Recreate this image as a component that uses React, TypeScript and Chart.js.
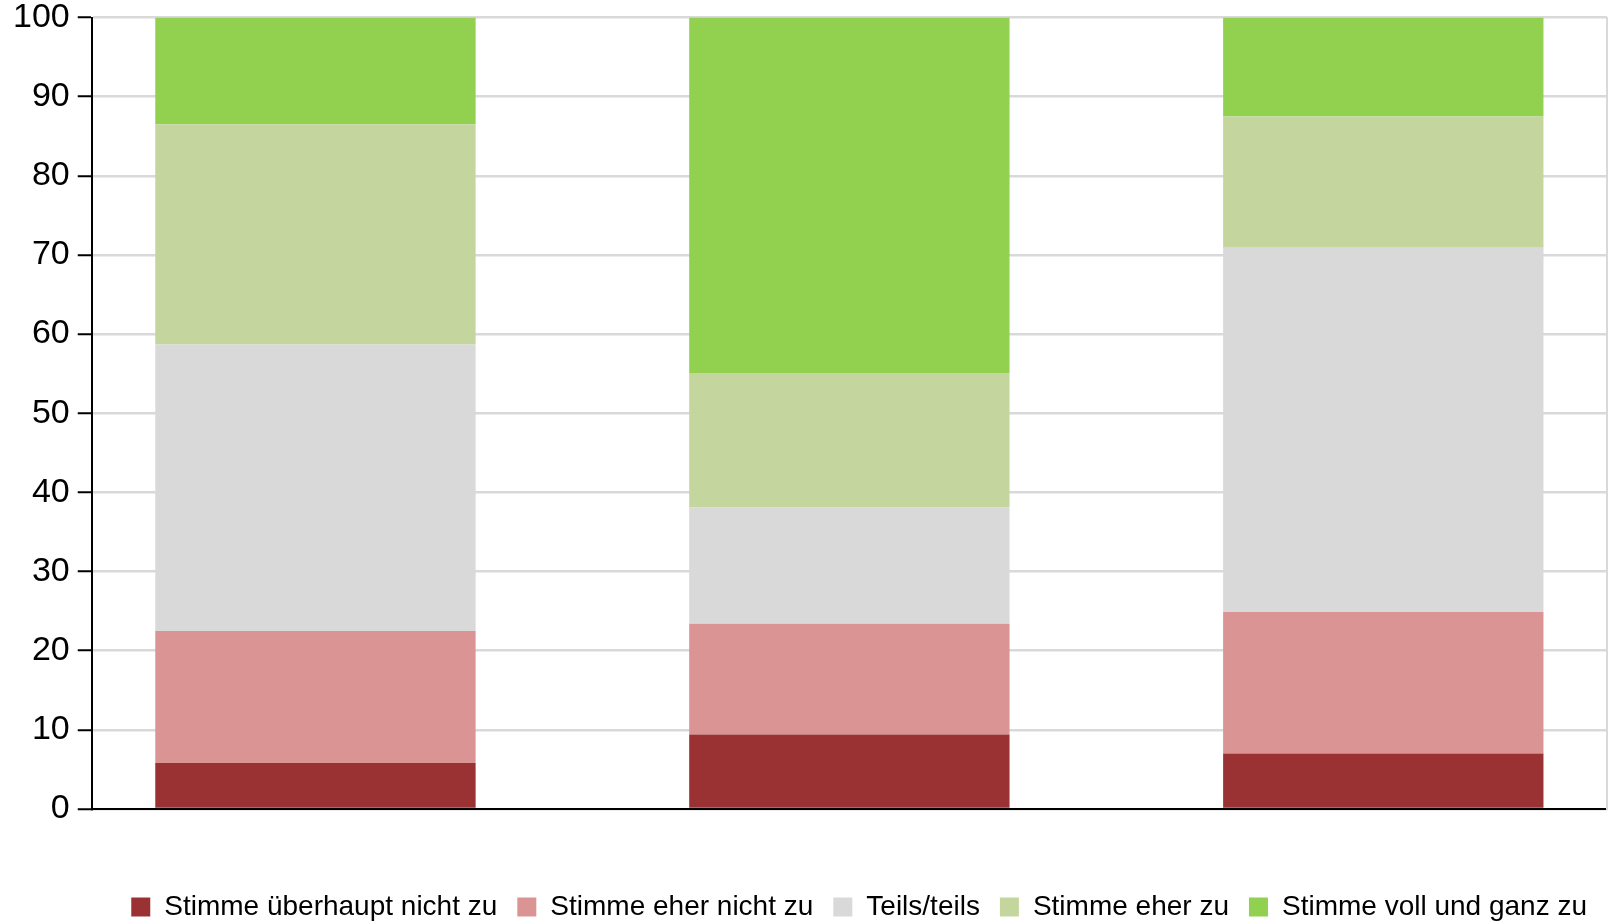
import React, { useEffect, useRef } from "react";
import { Chart, registerables } from "chart.js";

Chart.register(...registerables);

// ---- data ----
const categories = ["Gruppe 1", "Gruppe 2", "Gruppe 3"];
const seriesLabels = [
  "Stimme überhaupt nicht zu",
  "Stimme eher nicht zu",
  "Teils/teils",
  "Stimme eher zu",
  "Stimme voll und ganz zu",
];
const stronglyDisagree = [5.8, 9.4, 7.0];
const disagree = [16.7, 14.0, 17.9];
const neutral = [36.2, 14.7, 46.0];
const agree = [27.8, 17.0, 16.6];
const stronglyAgree = [13.5, 44.9, 12.5];
const yTicks = [0, 10, 20, 30, 40, 50, 60, 70, 80, 90, 100];

const seriesColors = ["#9a3234", "#da9494", "#d9d9d9", "#c4d69e", "#92d050"];
const FONT = "'Liberation Sans', Arial, sans-serif";

export default function App() {
  const ref = useRef<HTMLCanvasElement | null>(null);

  useEffect(() => {
    if (!ref.current) return;
    const series = [stronglyDisagree, disagree, neutral, agree, stronglyAgree];
    const chart = new Chart(ref.current, {
      type: "bar",
      data: {
        datasets: series.map((vals, si) => ({
          label: seriesLabels[si],
          data: vals.map((v, i) => ({ x: i, y: v, cat: categories[i] })),
          backgroundColor: seriesColors[si],
          borderWidth: 0,
          barPercentage: 0.6,
          categoryPercentage: 1,
          stack: "s",
        })),
      },
      options: {
        responsive: false,
        animation: false,
        layout: { padding: { left: 5, right: 3, top: 0, bottom: -10 } },
        plugins: {
          tooltip: { enabled: false },
          legend: {
            position: "bottom",
            align: "end",
            labels: {
              boxWidth: 19,
              boxHeight: 19,
              padding: 20,
              color: "#000",
              font: { family: FONT, size: 28 },
            },
          },
        },
        scales: {
          x: {
            type: "linear",
            stacked: true,
            offset: false,
            bounds: "data",
            min: -0.419,
            max: 2.419,
            afterBuildTicks: (scale: any) => {
              scale.ticks = categories.map((_, i) => ({ value: i }));
            },
            grid: { display: false, drawTicks: false, offset: false },
            border: { display: true, color: "#000", width: 2 },
            ticks: { display: false },
            title: {
              display: true,
              text: "",
              font: { size: 10, lineHeight: 1 },
              padding: { top: 54, bottom: 0 },
            },
          },
          y: {
            type: "linear",
            stacked: true,
            min: 0,
            max: 100,
            afterBuildTicks: (scale: any) => {
              scale.ticks = yTicks.map((v) => ({ value: v }));
            },
            grid: {
              color: "#d9d9d9",
              lineWidth: 2.5,
              tickColor: "#000",
              tickLength: 14,
              tickWidth: 2,
            },
            border: { display: true, color: "#000", width: 2 },
            ticks: {
              color: "#000",
              padding: 8,
              font: { family: FONT, size: 34, lineHeight: 0.56 },
            },
          },
          yR: {
            type: "linear",
            position: "right",
            display: true,
            min: 0,
            max: 100,
            grid: { display: false, drawTicks: false },
            border: { display: true, color: "#d9d9d9", width: 2 },
            ticks: { display: false },
          },
        },
      },
    } as any);
    return () => chart.destroy();
  }, []);

  return (
    <div style={{ position: "fixed", left: 0, top: 0, width: 1610, height: 921, background: "#fff" }}>
      <canvas ref={ref} width={1610} height={921} style={{ display: "block" }} />
    </div>
  );
}
